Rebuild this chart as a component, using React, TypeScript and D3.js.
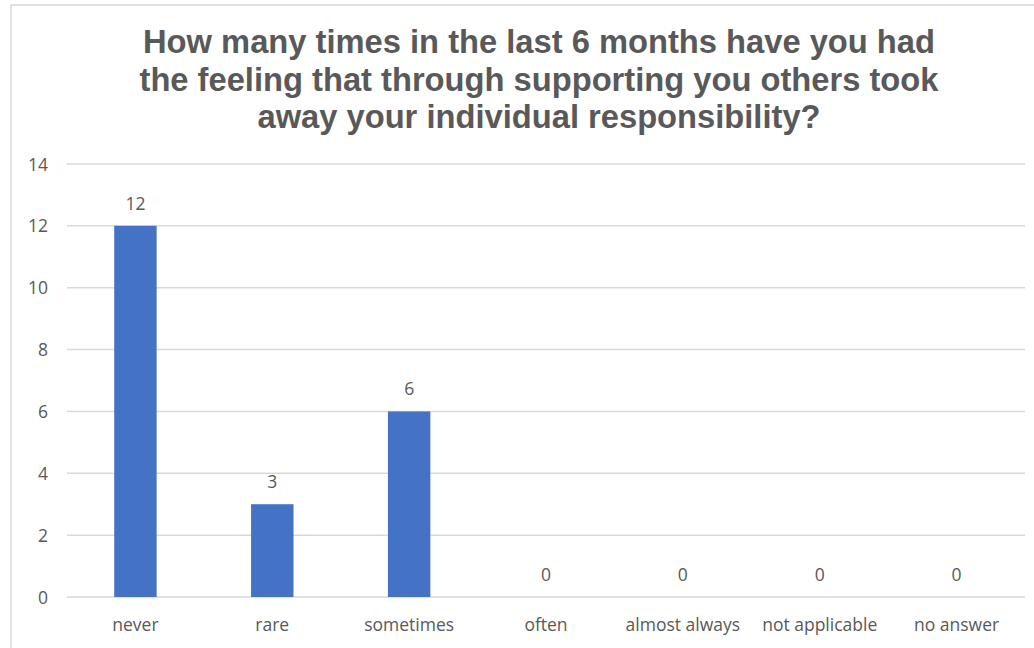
import React from "react";
import * as d3 from "d3";

const categories = ["never", "rare", "sometimes", "often", "almost always", "not applicable", "no answer"];
const values = [12, 3, 6, 0, 0, 0, 0];
const yTicks = [0, 2, 4, 6, 8, 10, 12, 14];
const titleLines = [
  "How many times in the last 6 months have you had",
  "the feeling that through supporting you others took",
  "away your individual responsibility?",
];

const W = 1034;
const H = 648;
const left = 67;
const right = 1025;
const top = 164;
const bottom = 597;

export default function App() {
  const x = d3.scaleBand<string>().domain(categories).range([left, right]).paddingInner(0.69).paddingOuter(0.345);
  const y = d3.scaleLinear().domain([0, 14]).range([bottom, top]);
  const textColor = "#595959";
  const font = "'Open Sans', 'Liberation Sans', sans-serif";
  const fs = 17.5;
  return (
    <svg width={W} height={H} style={{ position: "absolute", left: 0, top: 0, background: "#fff" }}>
      <rect x={0} y={0} width={W} height={H} fill="#fff" />
      <rect x={11} y={5} width={W + 20} height={H + 20} fill="none" stroke="#d9d9d9" strokeWidth={1.5} />
      {titleLines.map((t, i) => (
        <text
          key={i}
          x={539}
          y={53 + i * 37.5}
          textAnchor="middle"
          fontFamily="'Liberation Sans', Arial, sans-serif"
          fontWeight="bold"
          fontSize={32.7}
          fill={textColor}
        >
          {t}
        </text>
      ))}
      {yTicks.map((t) => (
        <g key={t}>
          <line x1={left} x2={right} y1={y(t)} y2={y(t)} stroke="#d9d9d9" strokeWidth={1.5} />
          <text x={48} y={y(t) + 6.5} textAnchor="end" fontFamily={font} fontSize={fs} fill={textColor}>
            {t}
          </text>
        </g>
      ))}
      {categories.map((c, i) => {
        const v = values[i];
        const bx = x(c)!;
        const cx = bx + x.bandwidth() / 2;
        return (
          <g key={c}>
            {v > 0 && (
              <rect x={bx} y={y(v)} width={x.bandwidth()} height={y(0) - y(v)} fill="#4472c4" />
            )}
            <text x={cx} y={y(v) - 16} textAnchor="middle" fontFamily={font} fontSize={fs} fill={textColor}>
              {v}
            </text>
            <text x={cx} y={631} textAnchor="middle" fontFamily={font} fontSize={fs} fill={textColor}>
              {c}
            </text>
          </g>
        );
      })}
    </svg>
  );
}
